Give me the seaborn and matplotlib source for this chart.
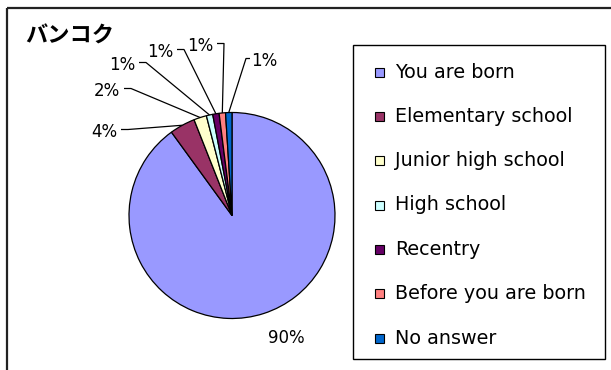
import matplotlib
matplotlib.use("Agg")
import numpy as np
import matplotlib.pyplot as plt
import seaborn as sns
from matplotlib.patches import Rectangle

# Where the respondents' families have been living since
categories = ["You are born", "Elementary school", "Junior high school",
              "High school", "Recentry", "Before you are born", "No answer"]
shares = [90, 4, 2, 1, 1, 1, 1]
colors = ["#9999FF", "#993366", "#FFFFCC", "#CCFFFF", "#660066", "#FF8080", "#0066CC"]
title = "バンコク"

sns.set_theme(style="white")
plt.rcParams["font.family"] = ["DejaVu Sans", "Noto Sans CJK JP"]

W, H = 611, 370
fig = plt.figure(figsize=(W / 100, H / 100), dpi=100)
ax = fig.add_axes([0, 0, 1, 1])


def py(y):
    """Convert a top-down pixel row to axes data y."""
    return H - y


cx, cy, r = 232, py(215.5), 103
wedges, _ = ax.pie(shares, colors=colors, startangle=90, counterclock=False,
                   center=(cx, cy), radius=r, frame=True,
                   wedgeprops=dict(edgecolor="black", linewidth=0.9))
ax.set_xlim(0, W)
ax.set_ylim(0, H)
ax.set_aspect("equal")
ax.set_axis_off()

# percentage labels and their leader lines
label_pos = [(286, 338), (104, 132), (107, 91), (122, 65), (160, 52), (200, 46), (264, 61)]
label_fs = 12
for i, (w, v) in enumerate(zip(wedges, shares)):
    lx, ly = label_pos[i]
    ax.text(lx, py(ly), f"{v}%", ha="center", va="center", fontsize=label_fs, color="black")
    if i == 0:
        continue
    mid = np.deg2rad((w.theta1 + w.theta2) / 2)
    ex, ey = cx + r * np.cos(mid), cy + r * np.sin(mid)
    half_w = 11
    y0 = py(ly) + 2.5
    if lx < ex:
        x0 = lx + half_w + 6
        x1 = x0 + 7
    else:
        x0 = lx - half_w - 3
        x1 = x0 - 4
    ax.plot([x0, x1, ex], [y0, y0, ey], color="black", lw=0.9, solid_capstyle="butt")

# chart title
ax.text(25, py(36), title, ha="left", va="center", fontsize=16, fontweight="bold",
        color="black", family=["Noto Sans CJK JP", "DejaVu Sans"])

# legend box
lx0, ly0, lx1, ly1 = 353, 45, 605, 359
ax.add_patch(Rectangle((lx0, py(ly1)), lx1 - lx0, ly1 - ly0, facecolor="white",
                       edgecolor="black", lw=1.0))
entry_y = np.linspace(72, 338, len(categories))
for name, col, ey in zip(categories, colors, entry_y):
    ax.add_patch(Rectangle((375, py(ey) - 4.5), 9, 9, facecolor=col, edgecolor="black", lw=0.8))
    ax.text(395, py(ey), name, ha="left", va="center", fontsize=13.8, color="black")

# chart area border (top and left edges)
ax.plot([6.5, W], [py(7.5), py(7.5)], color="#222222", lw=1.6, solid_capstyle="butt")
ax.plot([6.5, 6.5], [py(7.5), 0], color="#222222", lw=1.6, solid_capstyle="butt")

fig.savefig("out.png", dpi=100)
